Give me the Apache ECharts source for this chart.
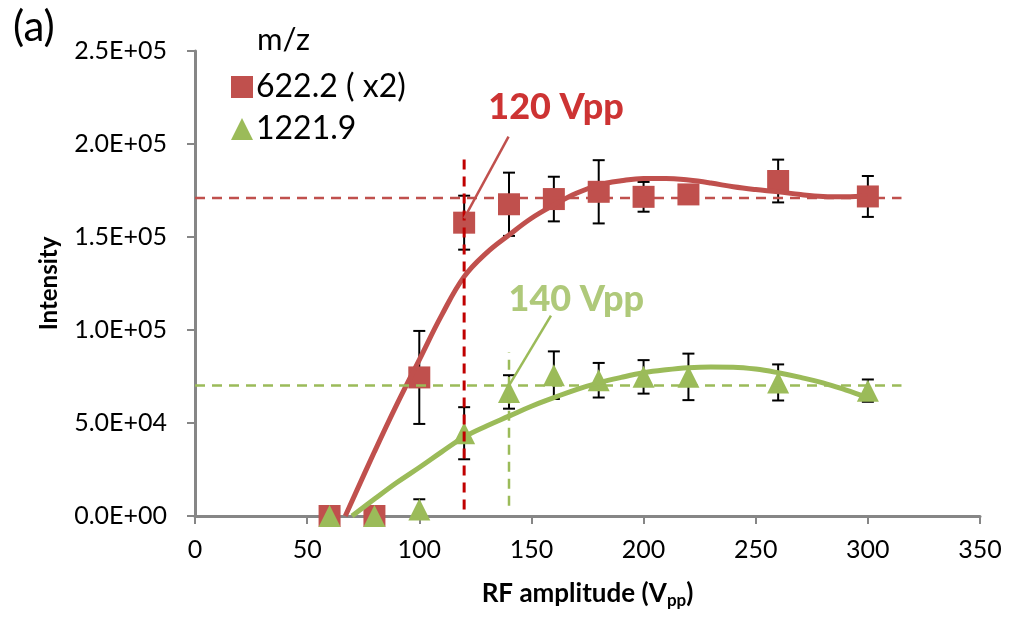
<!DOCTYPE html>
<html>
<head>
<meta charset="utf-8">
<script src="https://cdn.jsdelivr.net/npm/echarts@6/dist/echarts.min.js"></script>
<style>
html,body{margin:0;padding:0;background:#fff;}
#chart{width:1018px;height:618px;}
</style>
</head>
<body>
<div id="chart"></div>
<script>
// ---- data ----
const xVals = [60, 80, 100, 120, 140, 160, 180, 200, 220, 260, 300];
const red = [0, 0, 74500, 157700, 167600, 170400, 174300, 171600, 172900, 180100, 171800];
const redErr = [0, 0, 25000, 14500, 17000, 12000, 17000, 8000, 3000, 11500, 11000];
const green = [0, 0, 3500, 44500, 66700, 75700, 73000, 74800, 74800, 71800, 67400];
const greenErr = [0, 0, 5500, 14000, 9000, 12800, 9300, 9000, 12500, 9700, 6000];

const redFitX = [67, 80, 90, 100, 110, 120, 130, 140, 150, 160, 170, 180, 190, 200, 210, 220, 230, 240, 250, 260, 270, 280, 290, 300];
const redFitY = [0, 34500, 60000, 84000, 108000, 128700, 141500, 151100, 160100, 167200, 173500, 177900, 180200, 181500, 181500, 180600, 179000, 177000, 175500, 174300, 172800, 171800, 171600, 172000];
const greenFitX = [70, 80, 90, 100, 110, 120, 130, 140, 150, 160, 170, 180, 190, 200, 210, 220, 230, 240, 250, 260, 270, 280, 290, 300];
const greenFitY = [0, 9100, 18000, 26100, 34500, 42500, 48400, 53700, 59000, 63600, 68000, 71600, 74500, 77000, 78600, 79700, 80100, 80000, 79000, 77000, 74500, 71600, 67800, 63600];

const redRefY = 171000, greenRefY = 70200;
const refXRange = [0, 315];
const redVX = 120, redVRange = [3500, 192000];
const greenVX = 140, greenVRange = [5500, 88000];
const redPointer = [[120, 160000], [139.8, 204000]];
const greenPointer = [[139.5, 69100], [158.7, 107700]];
const redLabelPos = [161, 219700], greenLabelPos = [170, 116300];
const redLabel = '120 Vpp', greenLabel = '140 Vpp';

const seriesNames = ['622.2 ( x2)', '1221.9'];
const xTicks = { min: 0, max: 350, interval: 50 };
const yTicks = { min: 0, max: 250000, interval: 50000 };

const RED = '#c0504d', GREEN = '#9bbb59', DARKRED = '#c00000', AXIS = '#868686';
const FONT = 'Lato, "Noto Sans", sans-serif';

function sci(v) {
  if (v === 0) return '0.0E+00';
  const e = Math.floor(Math.log10(v) + 1e-9);
  const m = v / Math.pow(10, e);
  return m.toFixed(1) + 'E+' + String(e).padStart(2, '0');
}
function errData(ys, es) {
  return xVals.map((x, i) => [x, ys[i], es[i]]).filter(d => d[2] > 0);
}
function errRender(params, api) {
  const x = api.value(0), y = api.value(1), e = api.value(2);
  const p1 = api.coord([x, y + e]);
  const p2 = api.coord([x, Math.max(0, y - e)]);
  const h = 6;
  const st = { stroke: '#000', lineWidth: 2 };
  return {
    type: 'group',
    children: [
      { type: 'line', shape: { x1: p1[0], y1: p1[1], x2: p2[0], y2: p2[1] }, style: st },
      { type: 'line', shape: { x1: p1[0] - h, y1: p1[1], x2: p1[0] + h, y2: p1[1] }, style: st },
      { type: 'line', shape: { x1: p2[0] - h, y1: p2[1], x2: p2[0] + h, y2: p2[1] }, style: st }
    ]
  };
}
const zip = (xs, ys) => xs.map((x, i) => [x, ys[i]]);

const chart = echarts.init(document.getElementById('chart'), null, { renderer: 'canvas' });
const option = {
  animation: false,
  backgroundColor: '#fff',
  textStyle: { fontFamily: FONT },
  grid: { left: 195, right: 38, top: 51, bottom: 102 },
  graphic: [
    { type: 'text', left: 13, top: 6, style: { text: '(a)', font: '42px ' + FONT, fill: '#000' } },
    { type: 'text', left: 257, top: 24, style: { text: 'm/z', font: '31px ' + FONT, fill: '#000' } }
  ],
  legend: {
    data: seriesNames,
    orient: 'vertical',
    left: 226, top: 66,
    itemWidth: 22, itemHeight: 22, itemGap: 10,
    textStyle: { fontSize: 32, color: '#000', fontFamily: FONT, padding: [0, 0, 0, -2] },
    selectedMode: false
  },
  xAxis: {
    type: 'value', min: xTicks.min, max: xTicks.max, interval: xTicks.interval,
    splitLine: { show: false },
    axisLine: { lineStyle: { color: AXIS, width: 3 } },
    axisTick: { show: true, length: 8, lineStyle: { color: AXIS, width: 2 } },
    axisLabel: { fontSize: 25, color: '#000', margin: 21, fontFamily: FONT },
    name: '{n|RF amplitude (V}{s|pp}{n|)}',
    nameLocation: 'middle', nameGap: 62,
    nameTextStyle: {
      rich: {
        n: { fontSize: 26, fontWeight: 'bold', color: '#000', fontFamily: FONT },
        s: { fontSize: 17, fontWeight: 'bold', color: '#000', fontFamily: FONT, padding: [14, 0, 0, 0] }
      }
    }
  },
  yAxis: {
    type: 'value', min: yTicks.min, max: yTicks.max, interval: yTicks.interval,
    splitLine: { show: false },
    axisLine: { show: true, lineStyle: { color: AXIS, width: 3 } },
    axisTick: { show: true, length: 8, lineStyle: { color: AXIS, width: 2 } },
    axisLabel: { fontSize: 25, color: '#000', margin: 28, fontFamily: FONT, formatter: sci },
    name: 'Intensity', nameLocation: 'middle', nameGap: 134,
    nameTextStyle: { fontSize: 24, fontWeight: 'bold', color: '#000', fontFamily: FONT }
  },
  series: [
    { type: 'custom', name: 'errRed', renderItem: errRender, data: errData(red, redErr), z: 2, silent: true },
    { type: 'scatter', name: seriesNames[0], data: zip(xVals, red), symbol: 'rect', symbolSize: 22,
      itemStyle: { color: RED, opacity: 1 }, z: 3 },
    { type: 'custom', name: 'errGreen', renderItem: errRender, data: errData(green, greenErr), z: 4, silent: true },
    { type: 'scatter', name: seriesNames[1], data: zip(xVals, green), symbol: 'triangle', symbolSize: [22, 22],
      itemStyle: { color: GREEN, opacity: 1 }, z: 5 },
    { type: 'line', name: 'fitRed', data: zip(redFitX, redFitY), smooth: 0.4, showSymbol: false,
      lineStyle: { color: RED, width: 5 }, z: 6, silent: true },
    { type: 'line', name: 'fitGreen', data: zip(greenFitX, greenFitY), smooth: 0.4, showSymbol: false,
      lineStyle: { color: GREEN, width: 5 }, z: 6, silent: true },
    { type: 'line', name: 'refRed', data: refXRange.map(x => [x, redRefY]), showSymbol: false,
      lineStyle: { color: RED, width: 2.5, type: [10, 7] }, z: 7, silent: true },
    { type: 'line', name: 'refGreen', data: refXRange.map(x => [x, greenRefY]), showSymbol: false,
      lineStyle: { color: GREEN, width: 2.5, type: [10, 7] }, z: 7, silent: true },
    { type: 'line', name: 'vRed', data: redVRange.map(y => [redVX, y]), showSymbol: false,
      lineStyle: { color: DARKRED, width: 3, type: [10, 7] }, z: 7, silent: true },
    { type: 'line', name: 'vGreen', data: greenVRange.map(y => [greenVX, y]), showSymbol: false,
      lineStyle: { color: GREEN, width: 2.5, type: [10, 7] }, z: 7, silent: true },
    { type: 'line', name: 'ptrRed', data: redPointer, showSymbol: false,
      lineStyle: { color: RED, width: 2.5 }, z: 8, silent: true },
    { type: 'line', name: 'ptrGreen', data: greenPointer, showSymbol: false,
      lineStyle: { color: GREEN, width: 2.5 }, z: 8, silent: true },
    { type: 'scatter', name: 'lblRed', data: [redLabelPos], symbolSize: 1, itemStyle: { color: 'rgba(0,0,0,0)' }, silent: true,
      label: { show: true, position: 'inside', formatter: redLabel, color: DARKRED, fontSize: 36, fontWeight: 900, fontFamily: FONT }, z: 9 },
    { type: 'scatter', name: 'lblGreen', data: [greenLabelPos], symbolSize: 1, itemStyle: { color: 'rgba(0,0,0,0)' }, silent: true,
      label: { show: true, position: 'inside', formatter: greenLabel, color: GREEN, fontSize: 36, fontWeight: 900, fontFamily: FONT }, z: 9 }
  ]
};
chart.setOption(option);
</script>
</body>
</html>
